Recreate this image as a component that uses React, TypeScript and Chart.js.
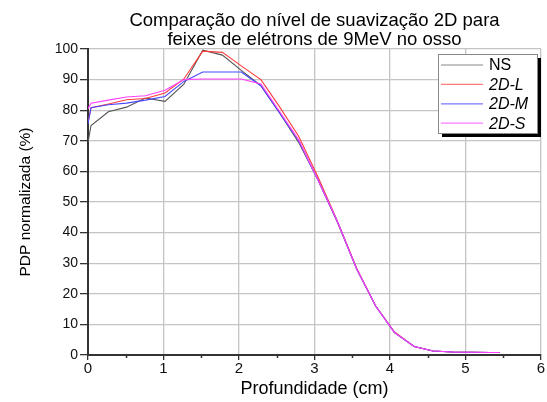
import React, { useEffect, useRef } from "react";
import { Chart, registerables } from "chart.js";

Chart.register(...registerables);

const depth = [0, 0.04, 0.27, 0.51, 0.76, 1.02, 1.27, 1.52, 1.78, 2.03, 2.29, 2.54, 2.79, 3.05, 3.3, 3.56, 3.81, 4.06, 4.32, 4.57, 4.83, 5.08, 5.33, 5.45];
const seriesNS = [69.5, 75, 79.5, 81, 84, 82.9, 88.5, 99.6, 98, 93, 88, 79, 69.5, 57, 43.5, 28, 16, 7.3, 2.8, 1.3, 1.0, 0.9, 0.8, 0.8];
const series2DL = [76, 80.8, 82, 83.4, 83.8, 85.6, 90.2, 99.3, 98.9, 94.5, 90, 81, 71.5, 58, 44, 28.3, 16, 7.5, 2.8, 1.3, 1.0, 0.9, 0.8, 0.8];
const series2DM = [75.5, 80.8, 81.8, 82.3, 83.3, 84.5, 89.4, 92.5, 92.5, 92.5, 88, 79, 70, 57, 43.8, 28, 16, 7.3, 2.8, 1.3, 1.0, 0.9, 0.8, 0.8];
const series2DS = [80.5, 82.3, 83.3, 84.3, 84.7, 86.5, 90, 90.2, 90.2, 90.2, 88.6, 79.5, 70.3, 57, 43.8, 28, 16, 7.3, 2.8, 1.3, 1.0, 0.9, 0.8, 0.8];

const seriesNames = ["NS", "2D-L", "2D-M", "2D-S"];
const seriesColors = ["#555555", "#ff3c3c", "#4646ff", "#ff40ff"];
const legendColors = ["#8a8a8a", "#ff7a7a", "#7a7aff", "#ff7aff"];
const xTicks = [0, 1, 2, 3, 4, 5, 6];
const yTicks = [0, 10, 20, 30, 40, 50, 60, 70, 80, 90, 100];
const titleLines = ["Comparação do nível de suavização 2D para", "feixes de elétrons de 9MeV no osso"];
const FONT = "'Liberation Sans', Arial, sans-serif";

const toPoints = (vals: number[]) => vals.map((v, i) => ({ x: depth[i], y: v }));

const extrasPlugin = {
  id: "extras",
  afterDraw(chart: any) {
    const ctx = chart.ctx;
    const xs = chart.scales.x;
    const area = chart.chartArea;
    ctx.save();
    // minor ticks on x axis
    ctx.strokeStyle = "#333";
    ctx.lineWidth = 1.5;
    for (let i = 0; i < xTicks.length - 1; i++) {
      const v = xTicks[i] + 0.5;
      const px = Math.round(xs.getPixelForValue(v)) + 0.5;
      ctx.beginPath();
      ctx.moveTo(px, area.bottom);
      ctx.lineTo(px, area.bottom + 3);
      ctx.stroke();
    }
    // legend
    const w = 99;
    const h = 79;
    const bx = area.right - 103;
    const by = area.top + 5;
    ctx.fillStyle = "#000";
    ctx.fillRect(bx + 4, by + 4, w, h);
    ctx.fillStyle = "#fff";
    ctx.fillRect(bx, by, w, h);
    ctx.strokeStyle = "#888";
    ctx.lineWidth = 1;
    ctx.strokeRect(bx + 0.5, by + 0.5, w, h);
    seriesNames.forEach((name, i) => {
      const y = by + 11 + i * 19.4;
      ctx.strokeStyle = legendColors[i];
      ctx.lineWidth = 1.2;
      ctx.beginPath();
      ctx.moveTo(bx + 3, y);
      ctx.lineTo(bx + 45, y);
      ctx.stroke();
      ctx.fillStyle = "#000";
      ctx.font = (i === 0 ? "" : "italic ") + "16px " + FONT;
      ctx.textBaseline = "middle";
      ctx.textAlign = "left";
      ctx.fillText(name, bx + 51, y + 1);
    });
    ctx.restore();
  },
};

export default function App() {
  const ref = useRef<HTMLCanvasElement | null>(null);
  useEffect(() => {
    document.body.style.margin = "0";
    const canvas = ref.current!;
    const all = [seriesNS, series2DL, series2DM, series2DS];
    const chart = new Chart(canvas, {
      type: "line",
      data: {
        datasets: all.map((vals, i) => ({
          label: seriesNames[i],
          data: toPoints(vals),
          borderColor: seriesColors[i],
          backgroundColor: seriesColors[i],
          borderWidth: 1.1,
          pointRadius: 0,
          tension: 0,
          fill: false,
          order: 4 - i,
        })),
      },
      options: {
        responsive: false,
        animation: false,
        layout: { padding: { left: 0, right: 6, top: 0, bottom: 0 } },
        plugins: {
          legend: { display: false },
          tooltip: { enabled: false },
          title: {
            display: true,
            fullSize: false,
            text: titleLines,
            color: "#000",
            font: { family: FONT, size: 18.5, weight: "normal", lineHeight: 1.0 },
            padding: { top: 12, bottom: 0 },
          },
        },
        scales: {
          x: {
            type: "linear",
            min: 0,
            max: 6,
            afterBuildTicks: (s: any) => {
              s.ticks = xTicks.map((v) => ({ value: v }));
            },
            afterFit: (s: any) => {
              s.height = 47;
            },
            ticks: {
              color: "#111",
              font: { family: FONT, size: 15 },
              padding: 0,
              maxRotation: 0,
            },
            grid: {
              color: "#c4c4c4",
              lineWidth: 1.3,
              tickColor: "#333",
              tickLength: 5,
            },
            border: { display: true, color: "#333", width: 2 },
            title: {
              display: true,
              text: "Profundidade (cm)",
              color: "#000",
              font: { family: FONT, size: 18 },
              padding: { top: 0, bottom: 2 },
            },
          },
          y: {
            type: "linear",
            min: 0,
            max: 100,
            afterBuildTicks: (s: any) => {
              s.ticks = yTicks.map((v) => ({ value: v }));
            },
            afterFit: (s: any) => {
              s.width = 88;
            },
            ticks: {
              color: "#111",
              font: { family: FONT, size: 14 },
              padding: 2,
            },
            grid: {
              color: "#c4c4c4",
              lineWidth: 1.3,
              tickColor: "#333",
              tickLength: 8,
            },
            border: { display: true, color: "#333", width: 2 },
            title: {
              display: true,
              text: "PDP normalizada (%)",
              color: "#000",
              font: { family: FONT, size: 15.5 },
              padding: { top: 16, bottom: 0 },
            },
          },
        },
      },
      plugins: [extrasPlugin],
    } as any);
    return () => chart.destroy();
  }, []);
  return (
    <div style={{ width: 547, height: 402 }}>
      <canvas ref={ref} width={547} height={402} style={{ display: "block" }} />
    </div>
  );
}
